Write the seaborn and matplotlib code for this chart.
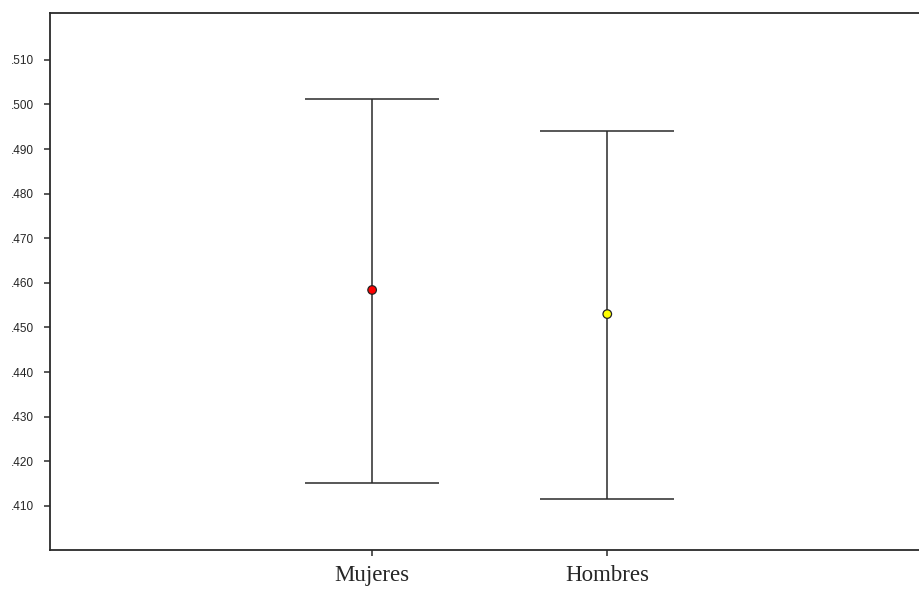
import matplotlib
matplotlib.use("Agg")
import matplotlib.pyplot as plt
import seaborn as sns
import pandas as pd

# Group means with lower/upper bounds of the 95% interval
groups = ["Mujeres", "Hombres"]
means = [0.4584, 0.4530]
lower = [0.4151, 0.4115]
upper = [0.5013, 0.4941]
point_colors = ["#ff0000", "#ffff00"]
yticks = [0.410, 0.420, 0.430, 0.440, 0.450, 0.460, 0.470, 0.480, 0.490, 0.500, 0.510]
ytick_labels = [".410", ".420", ".430", ".440", ".450", ".460", ".470", ".480", ".490", ".500", ".510"]

df = pd.DataFrame({"grupo": groups, "media": means, "lo": lower, "hi": upper})

sns.set_style("white")
fig = plt.figure(figsize=(9.2, 5.9), dpi=100)
ax = fig.add_axes([50 / 920, 40 / 590, 870 / 920, 537 / 590])

xpos = list(range(len(groups)))
line_col = "#2a2a2a"
ax.errorbar(xpos, df["media"],
            yerr=[df["media"] - df["lo"], df["hi"] - df["media"]],
            fmt="none", ecolor=line_col, elinewidth=1.1, capsize=48,
            capthick=1.1, zorder=2)
sns.scatterplot(x=xpos, y=df["media"], hue=df["grupo"], palette=point_colors,
                marker="o", s=38, edgecolor="#222222", linewidth=0.9,
                legend=False, zorder=3, ax=ax)

ax.set_xlim(-1.37, 2.33)
ax.set_ylim(0.4001, 0.5205)
ax.set_xticks(xpos)
ax.set_xticklabels(groups, fontfamily="Liberation Serif", fontsize=16.5)
ax.set_yticks(yticks)
ax.set_yticklabels(ytick_labels, fontfamily="Liberation Sans", fontsize=8.5)
ax.tick_params(axis="both", direction="out", length=4, width=1.1, color=line_col,
               left=True, bottom=True)
ax.tick_params(axis="y", pad=7.5)
ax.tick_params(axis="x", pad=6.5)
ax.set_xlabel("")
ax.set_ylabel("")

for side in ["left", "bottom", "top"]:
    ax.spines[side].set_color(line_col)
    ax.spines[side].set_linewidth(1.3)
ax.spines["right"].set_visible(False)

fig.savefig("out.png", dpi=100, facecolor="white")
